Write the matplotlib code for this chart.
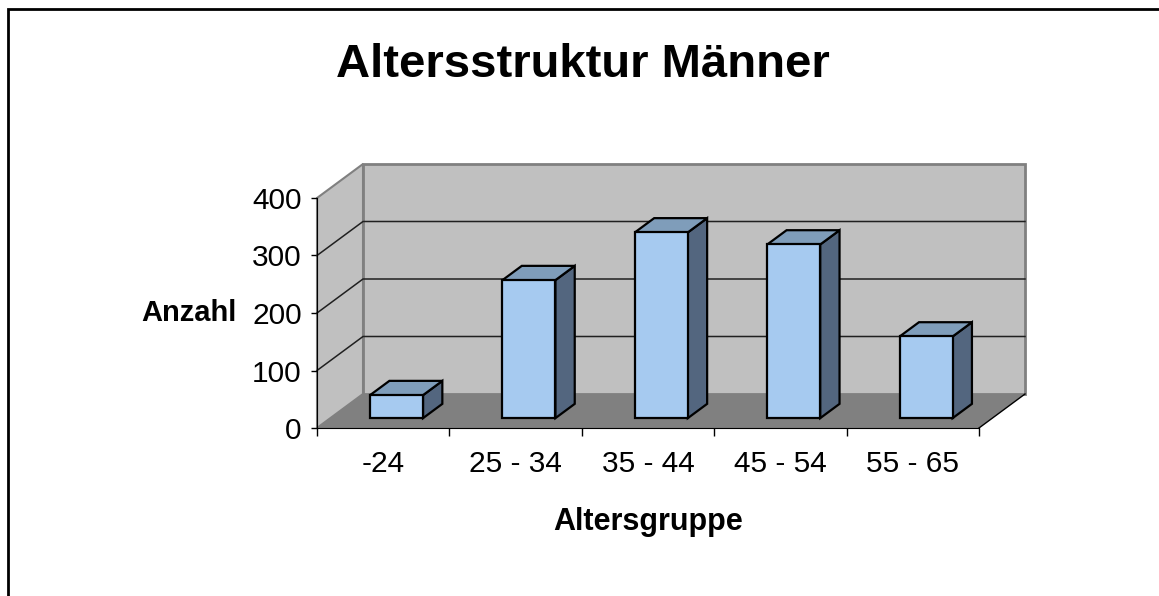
import matplotlib
matplotlib.use('Agg')
import matplotlib.pyplot as plt
from matplotlib.patches import Polygon, Rectangle

plt.rcParams['font.family'] = ['Liberation Sans', 'DejaVu Sans']

# data
groups = ['-24', '25 - 34', '35 - 44', '45 - 54', '55 - 65']
counts = [40, 240, 323, 302, 142]
yticks = [0, 100, 200, 300, 400]

W, H = 1159, 596
fig = plt.figure(figsize=(W / 100, H / 100), dpi=100)

# front plane of the chart box, in pixels
x0, x1 = 317, 979
y0, y1 = 428, 198
ax = fig.add_axes([x0 / W, 1 - y0 / H, (x1 - x0) / W, (y0 - y1) / H])
ax.set_xlim(0, len(groups))
ax.set_ylim(0, 400)
ax.patch.set_visible(False)

# depth offset (pixels) converted to data units
DX, DY = 46, 34
kx = DX / ((x1 - x0) / len(groups))
ky = DY / ((y0 - y1) / 400)

def sh(x, y, d):
    return (x + d * kx, y + d * ky)

ymax = 400
n = len(groups)

# walls and floor
left_wall = [sh(0, 0, 0), sh(0, ymax, 0), sh(0, ymax, 1), sh(0, 0, 1)]
back_wall = [sh(0, 0, 1), sh(n, 0, 1), sh(n, ymax, 1), sh(0, ymax, 1)]
floor = [sh(0, 0, 0), sh(n, 0, 0), sh(n, 0, 1), sh(0, 0, 1)]
ax.add_patch(Polygon(left_wall, closed=True, fc='#c0c0c0', ec='#808080', lw=1.5, clip_on=False, zorder=1))
ax.add_patch(Polygon(back_wall, closed=True, fc='#c0c0c0', ec='#808080', lw=2, clip_on=False, zorder=1))
ax.add_patch(Polygon(floor, closed=True, fc='#808080', ec='none', clip_on=False, zorder=1))

# gridlines on back and left wall
for v in yticks[1:-1]:
    a, b = sh(0, v, 0), sh(0, v, 1)
    c = sh(n, v, 1)
    ax.plot([a[0], b[0], c[0]], [a[1], b[1], c[1]], color='#202020', lw=1.1, clip_on=False, zorder=2)

# floor right edge
a, b = sh(n, 0, 0), sh(n, 0, 1)
ax.plot([a[0], b[0]], [a[1], b[1]], color='black', lw=1, clip_on=False, zorder=2)

# bars
d0, d1 = 0.29, 0.71
bw = 0.40
for i, v in enumerate(counts):
    xl = i + 0.5 - bw / 2
    xr = i + 0.5 + bw / 2
    front = [sh(xl, 0, d0), sh(xr, 0, d0), sh(xr, v, d0), sh(xl, v, d0)]
    top = [sh(xl, v, d0), sh(xr, v, d0), sh(xr, v, d1), sh(xl, v, d1)]
    side = [sh(xr, 0, d0), sh(xr, 0, d1), sh(xr, v, d1), sh(xr, v, d0)]
    for pts, col in [(side, '#53667f'), (top, '#7f9dba'), (front, '#a6caf0')]:
        ax.add_patch(Polygon(pts, closed=True, fc=col, ec='black', lw=1.6,
                             joinstyle='miter', clip_on=False, zorder=3))

# axes lines and ticks
for s in ['top', 'right']:
    ax.spines[s].set_visible(False)
ax.spines['left'].set_color('black')
ax.spines['bottom'].set_color('black')
ax.spines['left'].set_zorder(4)
ax.spines['bottom'].set_zorder(4)
ax.set_yticks(yticks)
ax.set_yticklabels([str(t) for t in yticks], fontsize=21.5)
ax.tick_params(axis='y', length=4, width=1, pad=7)
ax.set_xticks(range(n + 1))
ax.set_xticklabels([])
ax.tick_params(axis='x', length=6, width=1)
ax.set_xticks([i + 0.5 for i in range(n)], minor=True)
ax.set_xticklabels(groups, minor=True, fontsize=21.5)
ax.tick_params(axis='x', which='minor', length=0, pad=16)

ax.set_ylabel('Anzahl', fontsize=21, fontweight='bold', rotation=0,
              ha='center', va='center')
ax.yaxis.set_label_coords(-0.194, 0.5)
ax.set_xlabel('Altersgruppe', fontsize=22, fontweight='bold', labelpad=21)

fig.text(583 / W, 1 - 65 / H, 'Altersstruktur Männer', fontsize=34,
         fontweight='bold', ha='center', va='center')

# outer frame (only left and top edges visible)
fig.patches.append(Rectangle((8 / W, -0.2), 1.5, 1.2 - 9 / H,
                             transform=fig.transFigure, fill=False,
                             ec='black', lw=2))

fig.savefig('out.png', dpi=100)
